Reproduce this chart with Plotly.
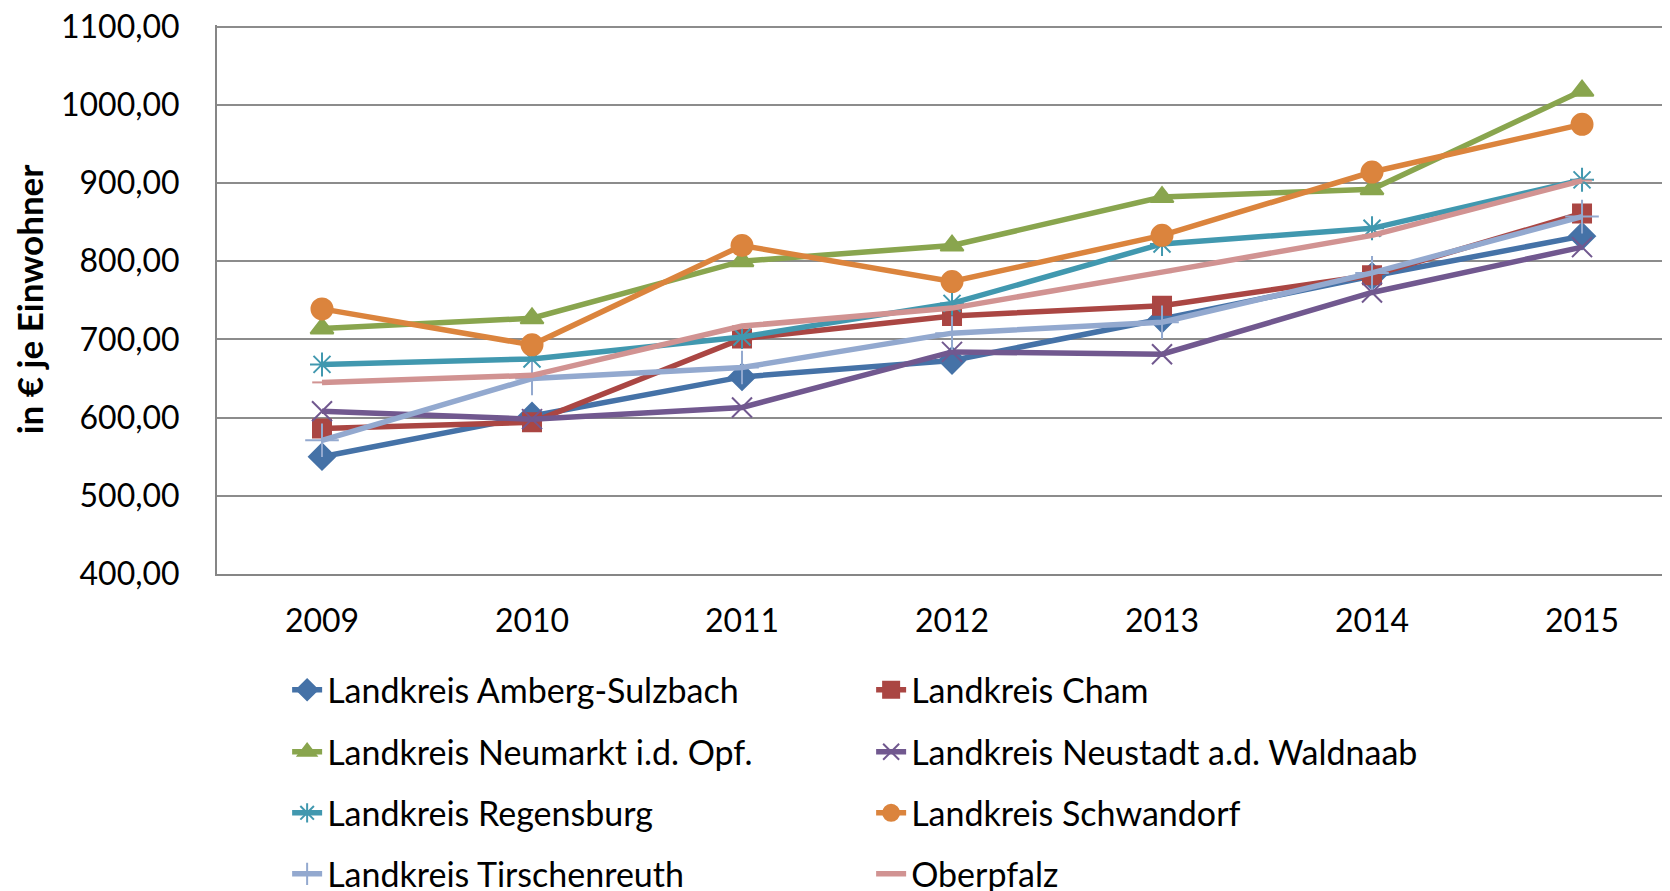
import plotly.graph_objects as go

years = ["2009", "2010", "2011", "2012", "2013", "2014", "2015"]

amberg_sulzbach = [550, 602, 652, 673, 726, 781, 832]
cham = [586, 594, 701, 730, 743, 782, 861]
neumarkt = [714, 727, 800, 820, 882, 892, 1018]
neustadt = [608, 598, 613, 684, 681, 760, 818]
regensburg = [668, 675, 703, 746, 822, 842, 904]
schwandorf = [739, 693, 820, 774, 833, 914, 975]
tirschenreuth = [571, 650, 664, 708, 722, 785, 857]
oberpfalz = [645, 654, 717, 740, 786, 833, 903]

series_names = [
    "Landkreis Amberg-Sulzbach", "Landkreis Cham",
    "Landkreis Neumarkt i.d. Opf.", "Landkreis Neustadt a.d. Waldnaab",
    "Landkreis Regensburg", "Landkreis Schwandorf",
    "Landkreis Tirschenreuth", "Oberpfalz",
]
series_values = [amberg_sulzbach, cham, neumarkt, neustadt,
                 regensburg, schwandorf, tirschenreuth, oberpfalz]
colors = ["#4572A7", "#AA4643", "#89A54E", "#71588F",
          "#4198AF", "#DB843D", "#93A9CF", "#D19392"]
symbols = ["diamond", "square", "triangle-up", "x-thin-open",
           "asterisk-open", "circle", "cross-thin-open", "line-ew-open"]
sizes = [20, 18, 20, 20, 20, 21, 24, 14]
legends = ["legend", "legend", "legend2", "legend2",
           "legend3", "legend3", "legend4", "legend4"]

FONT = "Lato, Calibri, sans-serif"

fig = go.Figure()
for name, vals, col, sym, sz, lg in zip(series_names, series_values, colors, symbols, sizes, legends):
    fig.add_trace(go.Scatter(
        x=years, y=vals, name=name, mode="lines+markers",
        line=dict(color=col, width=5.5),
        marker=dict(symbol=sym, size=sz, color=col,
                    line=dict(color=col, width=2)),
        legend=lg,
    ))

# page body has an 8px offset
OFF = 8
W, H = 1670, 891
Y_TOP = 1102
ml, mr, mb = 217 - OFF, 0, H - (574 - OFF)
px_per_unit = (574 - 27) / 700.0
mt = (574 - OFF) - (Y_TOP - 400) * px_per_unit
ph = H - mt - mb

def row_y(center_screen_px):
    return (H - mb - (center_screen_px - OFF)) / ph

legend_common = dict(
    orientation="h", xanchor="left", yanchor="middle",
    x=0.048, font=dict(family=FONT, size=34, color="#000000"),
    entrywidth=539, entrywidthmode="pixels",
    bgcolor="rgba(0,0,0,0)", borderwidth=0, itemwidth=30,
    traceorder="normal",
)

fig.update_layout(
    width=W, height=H,
    margin=dict(l=ml, r=mr, t=mt, b=mb, autoexpand=False),
    paper_bgcolor="white", plot_bgcolor="white",
    separators=", ",
    font=dict(family=FONT, size=32, color="#000000"),
    showlegend=True,
    legend=dict(legend_common, y=row_y(690)),
    legend2=dict(legend_common, y=row_y(752)),
    legend3=dict(legend_common, y=row_y(813)),
    legend4=dict(legend_common, y=row_y(874)),
    xaxis=dict(
        type="category", range=[-0.5, 6.457],
        showgrid=False, showline=True, linecolor="#868686", linewidth=2,
        ticks="", ticklabelstandoff=18,
        tickfont=dict(family=FONT, size=32, color="#000000"),
    ),
    yaxis=dict(
        range=[400, Y_TOP], dtick=100, tick0=400, tickformat=".2f",
        showgrid=True, gridcolor="#8C8C8C", gridwidth=2,
        showline=True, linecolor="#868686", linewidth=2,
        zeroline=False, ticks="", ticklabelstandoff=29,
        ticklabeloverflow="allow",
        tickfont=dict(family=FONT, size=32, color="#000000"),
        title=dict(text="in € je Einwohner", standoff=10,
                   font=dict(family=FONT, size=35, color="#000000", weight="bold")),
    ),
)

fig.write_html("out.html")
